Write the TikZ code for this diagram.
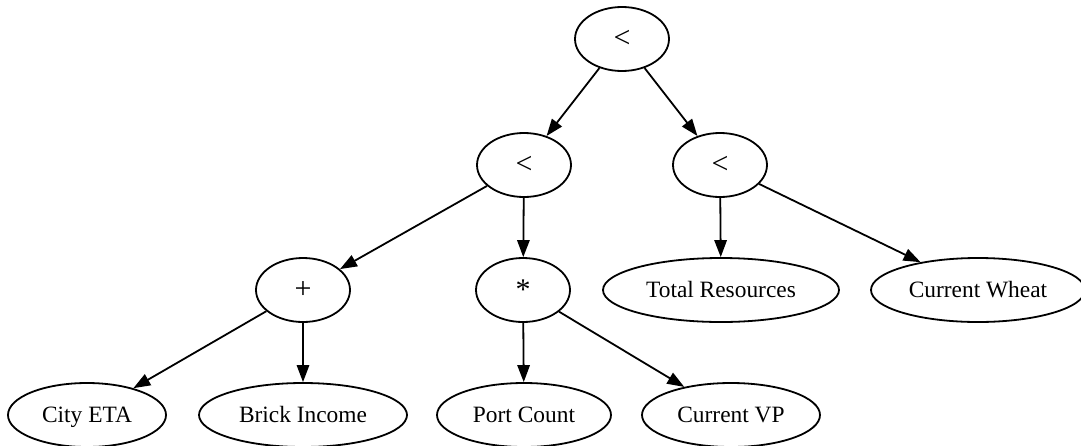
\documentclass[tikz,border=0pt]{standalone}
\usepackage{fontspec}
\setmainfont{Liberation Serif}
\usetikzlibrary{shapes.geometric,arrows.meta}

\begin{document}
\begin{tikzpicture}
	[x = 0.5pt, y = -0.5pt,
	tree/.style = {ellipse, draw, line width = 0.9pt, inner sep = 0pt, minimum height = 32pt, font = \fontsize{11.7}{14}\selectfont, text height = 9pt, text depth = 2pt},
	op/.style = {ellipse, draw, line width = 0.9pt, inner sep = 0pt, minimum height = 32pt, minimum width = 47pt, font = \fontsize{15}{18}\selectfont},
	edge/.style = {line width = 0.9pt, -{Triangle[length = 8.5pt, width = 6.2pt]}}]
	\useasboundingbox (0,0) rectangle (1081,445);
	\node [op] (root) at (622,39) {<};
	\node [op] (lt) at (524,165) {<};
	\node [op] (rt) at (720,165) {<};
	\node [op] (plus) at (303,290) {+};
	\node [op] (times) at (523,290) {*};
	\node [tree, minimum width = 118pt] (total) at (721,290) {Total Resources};
	\node [tree, minimum width = 107pt] (wheat) at (978,290) {Current Wheat};
	\node [tree, minimum width = 79pt] (city) at (87,415) {City ETA};
	\node [tree, minimum width = 104pt] (brick) at (303,415) {Brick Income};
	\node [tree, minimum width = 87pt] (port) at (524,415) {Port Count};
	\node [tree, minimum width = 89pt] (vp) at (731,415) {Current VP};
	\foreach \a/\b in {root/lt, root/rt, lt/plus, lt/times, rt/total, rt/wheat, plus/city, plus/brick, times/port, times/vp}
		\draw [edge] (\a) -- (\b);
\end{tikzpicture}
\end{document}
